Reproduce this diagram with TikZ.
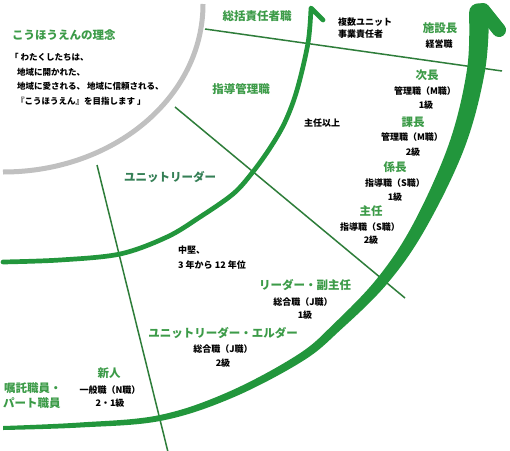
\documentclass[tikz,border=0pt]{standalone}
\usepackage{fontspec}
\setmainfont{Noto Sans CJK JP}
\usetikzlibrary{calc}
\definecolor{gline}{HTML}{2E7D3A}
\definecolor{garrow}{HTML}{22963C}
\definecolor{gtext}{HTML}{3C9B48}
\definecolor{gtextdark}{HTML}{347F55}
\definecolor{grayarc}{HTML}{C0C0C0}
\begin{document}
\begin{tikzpicture}[x=1pt,y=-1pt,
  gl/.style={text=gtext, font=\fontsize{11.5}{13}\selectfont\bfseries, inner sep=0pt},
  bl/.style={text=black, font=\fontsize{9}{11}\selectfont\bfseries, inner sep=0pt},
  ql/.style={text=black, font=\fontsize{8.5}{10}\selectfont\bfseries, inner sep=0pt, anchor=west},
  thinline/.style={draw=gline, line width=1.5pt},
  thinarrow/.style={draw=garrow, line width=4.7pt, line cap=round, line join=round},
  grayline/.style={draw=grayarc, line width=5pt}]
\useasboundingbox (0,0) rectangle (510,450);
\fill[white] (0,0) rectangle (510,450);

% straight thin lines
\coordinate (l1a) at (205,29); \coordinate (l1b) at (502,71);
\coordinate (l2a) at (175,107); \coordinate (l2b) at (405,298);
\coordinate (l3a) at (97,165); \coordinate (l3b) at (168,452);
\draw[thinline] (l1a) -- (l1b);
\draw[thinline] (l2a) -- (l2b);
\draw[thinline] (l3a) -- (l3b);

% thin arrow
\draw[thinarrow] plot[smooth, tension=0.55] coordinates {(3,262) (60,260) (120,254) (167,237) (200,217) (233,194) (252,173) (270,148) (285,122) (297,90) (308,43) (311,8)} -- (323,20);

% thick arrow
\fill[garrow] plot[smooth, tension=0.6] coordinates {(3,426) (79.9,422.5) (159.4,415.1) (228.6,391.8) (297.7,354.7) (333.9,323.7) (378.6,276.6) (414.3,221.8) (449.4,142.5) (467.1,68.7) (469,13)}
  .. controls (469,0) and (489,0) .. (489,13)
  -- plot[smooth, tension=0.6] coordinates {(489,13) (484.9,71.3) (464.6,147.5) (425.7,228.2) (387.4,283.4) (340.1,330.3) (302.3,361.3) (231.4,398.2) (160.6,420.9) (80.1,427.5) (3,430)} -- cycle;
\draw[draw=garrow, line width=14pt, line cap=round] (483,10) -- (499,30);

% gray arc
\draw[grayline] (203,4) .. controls (203,97) and (114,172) .. (3,172);

% philosophy
\node[gl, anchor=west] (rinen) at (12,35) {こうほうえんの理念};
\node[ql] (q1) at (10,57) {「 わたくしたちは、};
\node[ql] (q2) at (17,72) {地域に開かれた、};
\node[ql] (q3) at (17,86) {地域に愛される、 地域に信頼される、};
\node[ql] (q4) at (16,101) {『こうほうえん』を目指します 」};

% green labels
\node[gl] (sokatsu) at (257,16) {総括責任者職};
\node[gl] (shidokanri) at (241,89) {指導管理職};
\node[gl, text=gtextdark] (unitleader) at (170,177) {ユニットリーダー};
\node[gl] (shisetsucho) at (440,28) {施設長};
\node[gl] (jicho) at (427,75) {次長};
\node[gl] (kacho) at (413,122) {課長};
\node[gl] (kakaricho) at (395,167) {係長};
\node[gl] (shunin) at (371,211) {主任};
\node[gl] (fukushunin) at (305,285) {リーダー・副主任};
\node[gl] (elder) at (223,333) {ユニットリーダー・エルダー};
\node[gl] (shinjin) at (109,373) {新人};
\node[gl, anchor=west] (shokutaku1) at (4,388) {嘱託職員・};
\node[gl, anchor=west] (shokutaku2) at (3,403) {パート職員};

% black labels
\node[bl, anchor=west] (fukusu1) at (338,22) {複数ユニット};
\node[bl, anchor=west] (fukusu2) at (338,34) {事業責任者};
\node[bl] (keiei) at (439,44) {経営職};
\node[bl] (m1a) at (425,91) {管理職（M職）};
\node[bl] (m1b) at (426,105) {1級};
\node[bl] (ijo) at (322,123) {主任以上};
\node[bl] (m2a) at (412,137) {管理職（M職）};
\node[bl] (m2b) at (413,152) {2級};
\node[bl] (s1a) at (395,183) {指導職（S職）};
\node[bl] (s1b) at (395,197) {1級};
\node[bl] (s2a) at (370,227) {指導職（S職）};
\node[bl] (s2b) at (371,240) {2級};
\node[bl, anchor=west] (chuken1) at (178,250) {中堅、};
\node[bl, anchor=west] (chuken2) at (178,265) {3 年から 12 年位};
\node[bl] (j1a) at (303,302) {総合職（J職）};
\node[bl] (j1b) at (305,315) {1級};
\node[bl] (j2a) at (223,349) {総合職（J職）};
\node[bl] (j2b) at (223,363) {2級};
\node[bl] (na) at (110,390) {一般職（N職）};
\node[bl] (nb) at (110,403) {2・1級};
\end{tikzpicture}
\end{document}
